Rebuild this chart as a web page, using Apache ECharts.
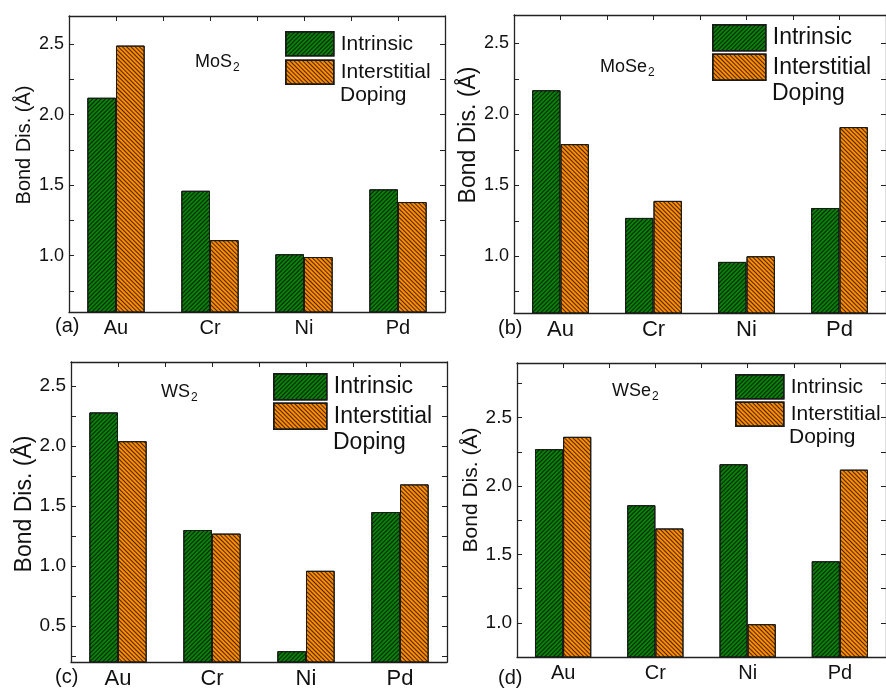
<!DOCTYPE html>
<html>
<head>
<meta charset="utf-8">
<script src="https://cdn.jsdelivr.net/npm/echarts@6/dist/echarts.min.js"></script>
<style>html,body{margin:0;padding:0;background:#fff}#c{width:886px;height:692px}</style>
</head>
<body>
<div id="c"></div>
<script>
// ---- data ----
const categories = ['Au', 'Cr', 'Ni', 'Pd'];
const seriesNames = ['Intrinsic', 'Interstitial'];
const intrinsicMoS2 = [2.12, 1.46, 1.01, 1.47];
const dopingMoS2 = [2.49, 1.11, 0.99, 1.38];
const intrinsicMoSe2 = [2.17, 1.27, 0.96, 1.34];
const dopingMoSe2 = [1.79, 1.39, 1.00, 1.91];
const intrinsicWS2 = [2.28, 1.30, 0.29, 1.45];
const dopingWS2 = [2.04, 1.27, 0.96, 1.68];
const intrinsicWSe2 = [2.27, 1.86, 2.16, 1.45];
const dopingWSe2 = [2.36, 1.69, 0.99, 2.12];
const yLabelsAB = [1.0, 1.5, 2.0, 2.5];
const yTicksAB = [0.75, 1.0, 1.25, 1.5, 1.75, 2.0, 2.25, 2.5];
const yLabelsC = [0.5, 1.0, 1.5, 2.0, 2.5];
const yTicksC = [0.25, 0.5, 0.75, 1.0, 1.25, 1.5, 1.75, 2.0, 2.25, 2.5];
const yLabelsD = [1.0, 1.5, 2.0, 2.5];
const yTicksD = [0.75, 1.0, 1.25, 1.5, 1.75, 2.0, 2.25, 2.5, 2.75];
const yRangeAB = [0.6, 2.7];
const yRangeC = [0.2, 2.7];
const yRangeD = [0.75, 2.9];
const panelLetters = ['(a)', '(b)', '(c)', '(d)'];
const materialMain = ['MoS', 'MoSe', 'WS', 'WSe'];
const materialSub = ['2', '2', '2', '2'];
const yName = 'Bond Dis. (\u00C5)';
const legendExtra = 'Doping';

// ---- layout ----
const FONT = '"Liberation Sans", Arial, Helvetica, sans-serif';
const TXT = '#111';
const panels = [
  { intr: intrinsicMoS2, dop: dopingMoS2, range: yRangeAB, labels: yLabelsAB, ticks: yTicksAB,
    grid: {left: 69, top: 16, width: 376, height: 296}, tick: 18, cat: 20, catMargin: 6,
    nameSize: 20, nameGap: 35, namePad: 38,
    title: {left: 195, top: 52}, titleSize: 18,
    legend: {left: 285, top: 31, w: 48, h: 24, gap: 3, size: 21}, doping: [340, 97],
    letter: [55, 328] },
  { intr: intrinsicMoSe2, dop: dopingMoSe2, range: yRangeAB, labels: yLabelsAB, ticks: yTicksAB,
    grid: {left: 514, top: 15, width: 376, height: 298}, tick: 18, cat: 22, catMargin: 6,
    nameSize: 23, nameGap: 33, namePad: 58,
    title: {left: 600, top: 57}, titleSize: 18,
    legend: {left: 712, top: 24, w: 53, h: 26, gap: 2, size: 23}, doping: [772, 96],
    letter: [498, 330] },
  { intr: intrinsicWS2, dop: dopingWS2, range: yRangeC, labels: yLabelsC, ticks: yTicksC,
    grid: {left: 71, top: 362, width: 376, height: 300}, tick: 19, cat: 22, catMargin: 6,
    nameSize: 23, nameGap: 35, namePad: 16,
    title: {left: 161, top: 382}, titleSize: 18,
    legend: {left: 273, top: 373, w: 53, h: 26, gap: 2, size: 23}, doping: [333, 445],
    letter: [55, 679] },
  { intr: intrinsicWSe2, dop: dopingWSe2, range: yRangeD, labels: yLabelsD, ticks: yTicksD,
    grid: {left: 517, top: 363, width: 372, height: 294}, tick: 19, cat: 20, catMargin: 6,
    nameSize: 21, nameGap: 35, namePad: 40,
    title: {left: 612, top: 381}, titleSize: 18,
    legend: {left: 735, top: 374, w: 48, h: 24, gap: 2, size: 21}, doping: [789, 439],
    letter: [498, 680] }
];

const GREEN = '#0a800a';
const ORANGE = '#ff8a00';
const AX = '#222';
const decalIntr = { symbol: 'rect', dashArrayX: [1, 0], dashArrayY: [1, 2], symbolSize: 1, rotation: -Math.PI / 4, color: 'rgba(0,0,0,0.72)' };
const decalDop = { symbol: 'rect', dashArrayX: [1, 0], dashArrayY: [1, 2], symbolSize: 1, rotation: Math.PI / 4, color: 'rgba(0,0,0,0.72)' };

const option = { animation: false, backgroundColor: '#fff', grid: [], xAxis: [], yAxis: [], series: [], legend: [], title: [], graphic: [] };

panels.forEach((p, i) => {
  option.grid.push(Object.assign({ containLabel: false }, p.grid));
  const lineStyle = { color: AX, width: 1.3 };
  option.xAxis.push({
    type: 'category', gridIndex: i, data: categories, position: 'bottom',
    axisLine: { onZero: false, lineStyle }, axisTick: { inside: true, length: 5, lineStyle: { color: AX } },
    axisLabel: { fontSize: p.cat, color: TXT, fontFamily: FONT, margin: p.catMargin },
    splitLine: { show: false }
  });
  option.xAxis.push({
    type: 'value', gridIndex: i, position: 'top', min: -0.5, max: 3.5, interval: 0.5,
    axisLine: { show: true, onZero: false, lineStyle }, axisTick: { show: true, inside: true, length: 5, lineStyle: { color: AX } },
    axisLabel: { show: false }, splitLine: { show: false }
  });
  option.yAxis.push({
    type: 'value', gridIndex: i, position: 'left', min: p.range[0], max: p.range[1],
    axisLine: { show: true, onZero: false, lineStyle },
    axisTick: { show: true, inside: true, length: 5, customValues: p.ticks, lineStyle: { color: AX } },
    axisLabel: { fontSize: p.tick, color: TXT, fontFamily: FONT, margin: 5, customValues: p.labels, formatter: v => v.toFixed(1) },
    splitLine: { show: false },
    name: yName, nameLocation: 'middle', nameGap: p.nameGap,
    nameTextStyle: { fontSize: p.nameSize, color: TXT, fontFamily: FONT, padding: [0, 0, 0, p.namePad] }
  });
  option.yAxis.push({
    type: 'value', gridIndex: i, position: 'right', min: p.range[0], max: p.range[1],
    axisLine: { show: true, onZero: false, lineStyle },
    axisTick: { show: true, inside: true, length: 5, customValues: p.ticks, lineStyle: { color: AX } },
    axisLabel: { show: false }, splitLine: { show: false }
  });
  const common = { type: 'bar', xAxisIndex: 2 * i, yAxisIndex: 2 * i, barGap: '0%', barCategoryGap: '39%' };
  option.series.push(Object.assign({}, common, {
    name: seriesNames[0], data: p.intr,
    itemStyle: { color: GREEN, borderColor: '#1a1a1a', borderWidth: 1, decal: decalIntr }
  }));
  option.series.push(Object.assign({}, common, {
    name: seriesNames[1], data: p.dop,
    itemStyle: { color: ORANGE, borderColor: '#1a1a1a', borderWidth: 1, decal: decalDop }
  }));
  option.legend.push({
    data: seriesNames, orient: 'vertical', left: p.legend.left, top: p.legend.top, padding: 0,
    itemWidth: p.legend.w, itemHeight: p.legend.h, itemGap: p.legend.gap, icon: 'rect',
    selectedMode: false,
    itemStyle: { borderColor: '#1a1a1a', borderWidth: 1.5 },
    textStyle: { fontSize: p.legend.size, color: TXT, fontFamily: FONT, padding: [0, 0, 0, 2] }
  });
  option.title.push({
    left: p.title.left, top: p.title.top, padding: 0,
    text: '{m|' + materialMain[i] + '}{s|' + materialSub[i] + '}',
    textStyle: { fontWeight: 'normal', rich: {
      m: { fontSize: p.titleSize, fontWeight: 'normal', fontFamily: FONT, color: TXT, lineHeight: 20 },
      s: { fontSize: 12, fontWeight: 'normal', fontFamily: FONT, color: TXT, lineHeight: 20, padding: [12, 0, 0, 1] }
    } }
  });
  option.graphic.push({
    type: 'text', left: p.doping[0], top: p.doping[1] - p.legend.size * 0.6,
    style: { text: legendExtra, fontSize: p.legend.size, fill: TXT, fontFamily: FONT }
  });
  option.graphic.push({
    type: 'text', left: p.letter[0], top: p.letter[1] - 12,
    style: { text: panelLetters[i], fontSize: 20, fill: TXT, fontFamily: FONT }
  });
});

const chart = echarts.init(document.getElementById('c'), null, { renderer: 'canvas' });
chart.setOption(option);
</script>
</body>
</html>
